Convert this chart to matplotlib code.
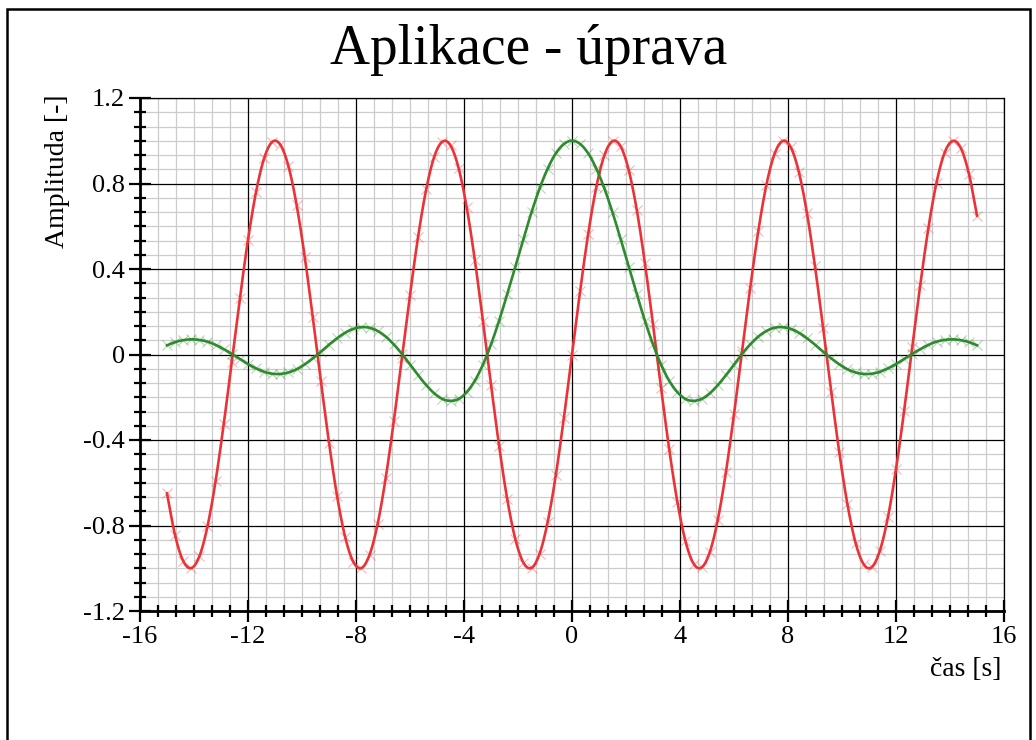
import numpy as np
import matplotlib
matplotlib.use('Agg')
import matplotlib.pyplot as plt
from matplotlib.ticker import FixedLocator, FuncFormatter
from matplotlib.patches import Rectangle

plt.rcParams['font.family'] = 'Liberation Serif'
plt.rcParams['axes.unicode_minus'] = False

# ============ DATA ============
title = 'Aplikace - úprava'
x_label = 'čas [s]'
y_label = 'Amplituda [-]'

# sample times [s]
t = np.round(np.arange(-15.0, 15.0 + 1e-9, 0.3), 1)

# red series
red_vals = [
    -0.650, -0.846, -0.966, -0.999, -0.944, -0.804, -0.592, -0.327, -0.034, 0.264,
    0.537, 0.762, 0.919, 0.995, 0.981, 0.880, 0.700, 0.458, 0.174, -0.125,
    -0.412, -0.663, -0.855, -0.970, -0.999, -0.938, -0.794, -0.578, -0.312, -0.017,
    0.279, 0.551, 0.773, 0.926, 0.996, 0.978, 0.872, 0.688, 0.443, 0.158,
    -0.141, -0.427, -0.676, -0.863, -0.974, -0.998, -0.932, -0.783, -0.565, -0.296,
    0.000,
    0.296, 0.565, 0.783, 0.932, 0.998, 0.974, 0.863, 0.676, 0.427, 0.141,
    -0.158, -0.443, -0.688, -0.872, -0.978, -0.996, -0.926, -0.773, -0.551, -0.279,
    0.017, 0.312, 0.578, 0.794, 0.938, 0.999, 0.970, 0.855, 0.663, 0.412,
    0.125, -0.174, -0.458, -0.700, -0.880, -0.981, -0.995, -0.919, -0.762, -0.537,
    -0.264, 0.034, 0.327, 0.592, 0.804, 0.944, 0.999, 0.966, 0.846, 0.650,
]

# green series
green_vals = [
    0.043, 0.058, 0.067, 0.071, 0.068, 0.060, 0.045, 0.025, 0.003, -0.021,
    -0.045, -0.065, -0.081, -0.090, -0.091, -0.084, -0.069, -0.046, -0.018, 0.013,
    0.046, 0.076, 0.102, 0.120, 0.128, 0.125, 0.110, 0.084, 0.047, 0.003,
    -0.047, -0.097, -0.143, -0.182, -0.208, -0.217, -0.208, -0.176, -0.123, -0.048,
    0.047, 0.158, 0.282, 0.411, 0.541, 0.665, 0.777, 0.870, 0.941, 0.985,
    1.000,
    0.985, 0.941, 0.870, 0.777, 0.665, 0.541, 0.411, 0.282, 0.158, 0.047,
    -0.048, -0.123, -0.176, -0.208, -0.217, -0.208, -0.182, -0.143, -0.097, -0.047,
    0.003, 0.047, 0.084, 0.110, 0.125, 0.128, 0.120, 0.102, 0.076, 0.046,
    0.013, -0.018, -0.046, -0.069, -0.084, -0.091, -0.090, -0.081, -0.065, -0.045,
    -0.021, 0.003, 0.025, 0.045, 0.060, 0.068, 0.071, 0.067, 0.058, 0.043,
]

RED = '#ea3237'
GREEN = '#2e8a2e'


def smooth_line(x, y, n=10):
    """Catmull-Rom curve through the points, only for drawing a smooth line."""
    x = np.asarray(x, float)
    y = np.asarray(y, float)
    s = np.linspace(0, 1, n, endpoint=False)[:, None]
    res = []
    for p in (x, y):
        p = np.concatenate([[2 * p[0] - p[1]], p, [2 * p[-1] - p[-2]]])
        p0, p1, p2, p3 = p[:-3], p[1:-2], p[2:-1], p[3:]
        seg = 0.5 * ((2 * p1) + (-p0 + p2) * s + (2 * p0 - 5 * p1 + 4 * p2 - p3) * s ** 2
                     + (-p0 + 3 * p1 - 3 * p2 + p3) * s ** 3)
        res.append(np.concatenate([seg.T.ravel(), [p[-2]]]))
    return res[0], res[1]


# ============ FIGURE ============
W, H = 1036, 740
fig = plt.figure(figsize=(W / 100, H / 100), dpi=100)

# outer frame of the whole picture
fig.patches.append(Rectangle((7 / W, -0.05), (1030 - 7) / W, 1.05 - 9 / H,
                             transform=fig.transFigure, fill=False,
                             edgecolor='black', linewidth=1.8))

ax = fig.add_axes([140 / W, 129 / H, 864 / W, 513 / H])

ax.set_xlim(-16, 16)
ax.set_ylim(-1.2, 1.2)

x_major = np.arange(-16, 17, 4)
y_major = np.round(np.arange(-1.2, 1.21, 0.4), 2)
x_minor = [v for v in np.arange(-16, 16.01, 4 / 6) if abs(v / 4 - round(v / 4)) > 1e-6]
y_minor = [v for v in np.arange(-1.2, 1.201, 0.4 / 6) if abs(v / 0.4 - round(v / 0.4)) > 1e-6]

ax.xaxis.set_major_locator(FixedLocator(x_major))
ax.xaxis.set_minor_locator(FixedLocator(x_minor))
ax.yaxis.set_major_locator(FixedLocator(y_major))
ax.yaxis.set_minor_locator(FixedLocator(y_minor))
ax.yaxis.set_major_formatter(FuncFormatter(lambda v, p: '%g' % round(v, 2)))
ax.xaxis.set_major_formatter(FuncFormatter(lambda v, p: '%g' % round(v, 2)))

# grid: light minor lines first, black major lines on top
for v in x_minor:
    ax.axvline(v, color='#cccccc', linewidth=0.9, zorder=0.5)
for v in y_minor:
    ax.axhline(v, color='#cccccc', linewidth=0.9, zorder=0.5)
for v in x_major:
    ax.axvline(v, color='black', linewidth=0.9, zorder=1)
for v in y_major:
    ax.axhline(v, color='black', linewidth=0.9, zorder=1)

ax.tick_params(which='major', direction='inout', length=16, width=1.6,
               labelsize=19, pad=3)
ax.tick_params(which='minor', direction='inout', length=8, width=1.6)
ax.tick_params(top=False, right=False, which='both')

for side in ['left', 'bottom']:
    ax.spines[side].set_linewidth(2.0)
for side in ['top', 'right']:
    ax.spines[side].set_linewidth(0.9)

# series lines + pale markers
for vals, col in [(red_vals, RED), (green_vals, GREEN)]:
    sx, sy = smooth_line(t, vals)
    ax.plot(sx, sy, color=col, linewidth=1.9, zorder=3)
    ax.plot(t, vals, linestyle='none', marker='x', markersize=7,
            markeredgewidth=0.8, color=col, alpha=0.35, zorder=4)

fig.text(529 / W, 1 - 50 / H, title, fontsize=40, ha='center', va='center')
fig.text(1001 / W, 1 - 669 / H, x_label, fontsize=20, ha='right', va='center')
fig.text(57 / W, 1 - 95 / H, y_label, fontsize=20, ha='center', va='top',
         rotation=90)

fig.savefig('out.png', dpi=100)
